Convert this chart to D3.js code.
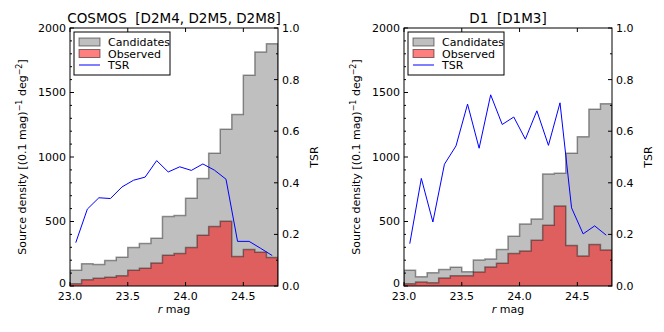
<!DOCTYPE html>
<html lang="en">
<head>
    <meta charset="UTF-8">
    <title>Source density vs r mag</title>
    <script src="https://d3js.org/d3.v7.min.js"></script>
    <style>
        body { margin: 0; background: #fff; }
        text { font-family: "DejaVu Sans", sans-serif; fill: #000; white-space: pre; }
    </style>
</head>
<body>
    <div id="chart"></div>

    <script>
        // bin left edges (0.1 mag bins)
        const binStarts = [23.0, 23.1, 23.2, 23.3, 23.4, 23.5, 23.6, 23.7, 23.8, 23.9,
                           24.0, 24.1, 24.2, 24.3, 24.4, 24.5, 24.6, 24.7];
        const binEnd = 24.8;

        // COSMOS panel
        const cosmosCandidates = [122, 173, 166, 197, 222, 298, 329, 370, 538, 546,
                                  680, 833, 1030, 1216, 1330, 1633, 1814, 1878];
        const cosmosObserved = [18, 49, 60, 67, 80, 122, 137, 179, 238, 251,
                                298, 393, 461, 502, 228, 282, 261, 220];
        const cosmosTSR = [0.168, 0.298, 0.342, 0.339, 0.384, 0.410, 0.422, 0.486, 0.442, 0.462,
                           0.448, 0.473, 0.449, 0.414, 0.173, 0.173, 0.146, 0.118];

        // D1 panel
        const d1Candidates = [122, 72, 103, 127, 145, 111, 202, 210, 282, 386,
                              481, 520, 869, 875, 1030, 1157, 1371, 1413];
        const d1Observed = [18, 31, 26, 62, 80, 80, 109, 147, 176, 251,
                            272, 354, 471, 621, 313, 233, 321, 279];
        const d1TSR = [0.164, 0.417, 0.248, 0.472, 0.543, 0.705, 0.534, 0.741, 0.626, 0.655,
                       0.569, 0.679, 0.545, 0.710, 0.303, 0.202, 0.233, 0.197];

        const xTicks = [23.0, 23.5, 24.0, 24.5];
        const yTicks = [0, 500, 1000, 1500, 2000];
        const tsrTicks = [0.0, 0.2, 0.4, 0.6, 0.8, 1.0];

        const panels = [
            {title: "COSMOS  [D2M4, D2M5, D2M8]", cand: cosmosCandidates, obs: cosmosObserved, tsr: cosmosTSR, left: 70},
            {title: "D1  [D1M3]", cand: d1Candidates, obs: d1Observed, tsr: d1TSR, left: 404}
        ];

        const width = 664, height = 332;
        const pw = 208, plotTop = 28, plotBottom = 286;

        const svg = d3.select("#chart")
            .append("svg")
            .attr("width", width)
            .attr("height", height);

        const greyFill = "#bfbfbf";
        const redFill = "rgba(255,0,0,0.5)";

        panels.forEach(p => {
            const g = svg.append("g").attr("transform", `translate(${p.left},0)`);

            const x = d3.scaleLinear().domain([23.0, 24.8]).range([0, pw]);
            const y = d3.scaleLinear().domain([0, 2000]).range([plotBottom, plotTop]);
            const y2 = d3.scaleLinear().domain([0, 1]).range([plotBottom, plotTop]);

            const clipId = "clip" + p.left;
            g.append("clipPath").attr("id", clipId)
                .append("rect").attr("x", 0).attr("y", plotTop).attr("width", pw).attr("height", plotBottom - plotTop);

            const plot = g.append("g").attr("clip-path", `url(#${clipId})`);

            // step histogram helper
            const stepPts = vals => {
                const pts = binStarts.map((b, i) => [b, vals[i]]);
                pts.push([binEnd, vals[vals.length - 1]]);
                return pts;
            };
            const area = d3.area()
                .x(d => x(d[0])).y0(y(0)).y1(d => y(d[1]))
                .curve(d3.curveStepAfter);
            const outline = pts => {
                const line = d3.line().x(d => x(d[0])).y(d => y(d[1])).curve(d3.curveStepAfter);
                return `M${x(pts[0][0])},${y(0)}L` + line(pts).slice(1) + `L${x(binEnd)},${y(0)}`;
            };

            const candPts = stepPts(p.cand);
            plot.append("path").attr("d", area(candPts)).attr("fill", greyFill);
            plot.append("path").attr("d", outline(candPts))
                .attr("fill", "none").attr("stroke", "rgba(0,0,0,0.4)").attr("stroke-width", 1.5);

            const obsPts = stepPts(p.obs);
            plot.append("path").attr("d", area(obsPts)).attr("fill", redFill);
            plot.append("path").attr("d", outline(obsPts))
                .attr("fill", "none").attr("stroke", "rgba(0,0,0,0.4)").attr("stroke-width", 1.5);

            // TSR line at bin centres
            const tsrLine = d3.line()
                .x((d, i) => x(binStarts[i] + 0.05))
                .y(d => y2(d));
            plot.append("path").attr("d", tsrLine(p.tsr))
                .attr("fill", "none").attr("stroke", "#0000ff").attr("stroke-width", 1);

            // frame
            g.append("rect").attr("x", 0).attr("y", plotTop).attr("width", pw).attr("height", plotBottom - plotTop)
                .attr("fill", "none").attr("stroke", "#000").attr("stroke-width", 1);

            // x ticks (inward, bottom and top)
            xTicks.forEach(t => {
                g.append("line").attr("x1", x(t)).attr("x2", x(t)).attr("y1", plotBottom).attr("y2", plotBottom - 4)
                    .attr("stroke", "#000");
                g.append("line").attr("x1", x(t)).attr("x2", x(t)).attr("y1", plotTop).attr("y2", plotTop + 4)
                    .attr("stroke", "#000");
                g.append("text").attr("x", x(t)).attr("y", plotBottom + 14)
                    .attr("text-anchor", "middle").style("font-size", "11px")
                    .text(d3.format(".1f")(t));
            });

            // left axis: major + minor ticks
            y.ticks(20).forEach(t => {
                const major = t % 500 === 0;
                g.append("line").attr("x1", 0).attr("x2", major ? 4 : 2)
                    .attr("y1", y(t)).attr("y2", y(t)).attr("stroke", "#000");
            });
            yTicks.forEach(t => {
                // the 0 label sits a touch higher so it clears the x tick label below it
                g.append("text").attr("x", -4).attr("y", y(t) + (t === 0 ? 0.5 : 3.5))
                    .attr("text-anchor", "end").style("font-size", "11px").text(t);
            });

            // right axis (TSR)
            y2.ticks(10).forEach((t, i) => {
                const major = i % 2 === 0;
                g.append("line").attr("x1", pw).attr("x2", pw - (major ? 4 : 2))
                    .attr("y1", y2(t)).attr("y2", y2(t)).attr("stroke", "#000");
            });
            tsrTicks.forEach(t => {
                g.append("text").attr("x", pw + 4).attr("y", y2(t) + 4)
                    .style("font-size", "11px").text(d3.format(".1f")(t));
            });

            // title
            g.append("text").attr("x", pw / 2).attr("y", 23)
                .attr("text-anchor", "middle").style("font-size", "13.5px").text(p.title);

            // x label
            const xl = g.append("text").attr("x", pw / 2).attr("y", plotBottom + 27)
                .attr("text-anchor", "middle").style("font-size", "11px");
            xl.append("tspan").style("font-style", "italic").text("r");
            xl.append("tspan").text(" mag");

            // left y label
            const yl = g.append("text")
                .attr("transform", `translate(-44,${(plotTop + plotBottom) / 2}) rotate(-90)`)
                .attr("text-anchor", "middle").style("font-size", "11px");
            yl.append("tspan").text("Source density [(0.1 mag)");
            yl.append("tspan").attr("dy", -4).style("font-size", "8px").text("\u22121");
            yl.append("tspan").attr("dy", 4).text(" deg");
            yl.append("tspan").attr("dy", -4).style("font-size", "8px").text("\u22122");
            yl.append("tspan").attr("dy", 4).text("]");

            // right y label
            g.append("text")
                .attr("transform", `translate(${pw + 40},${(plotTop + plotBottom) / 2}) rotate(-90)`)
                .attr("text-anchor", "middle").style("font-size", "11px").text("TSR");

            // legend
            const lg = g.append("g").attr("transform", "translate(4,4)");
            lg.append("rect").attr("x", 0).attr("y", plotTop).attr("width", 96).attr("height", 43)
                .attr("fill", "#fff").attr("stroke", "#000").attr("stroke-width", 1);
            const items = [
                {label: "Candidates", type: "patch", fill: greyFill},
                {label: "Observed", type: "patch", fill: redFill},
                {label: "TSR", type: "line"}
            ];
            items.forEach((it, i) => {
                const cy = plotTop + 10 + i * 11.5;
                if (it.type === "patch") {
                    lg.append("rect").attr("x", 5).attr("y", cy - 4).attr("width", 21).attr("height", 8)
                        .attr("fill", it.fill).attr("stroke", "rgba(0,0,0,0.5)").attr("stroke-width", 1);
                } else {
                    lg.append("line").attr("x1", 5).attr("x2", 26).attr("y1", cy).attr("y2", cy)
                        .attr("stroke", "#0000ff").attr("stroke-width", 1);
                }
                lg.append("text").attr("x", 34).attr("y", cy + 4)
                    .style("font-size", "11px").text(it.label);
            });
        });
    </script>
</body>
</html>
